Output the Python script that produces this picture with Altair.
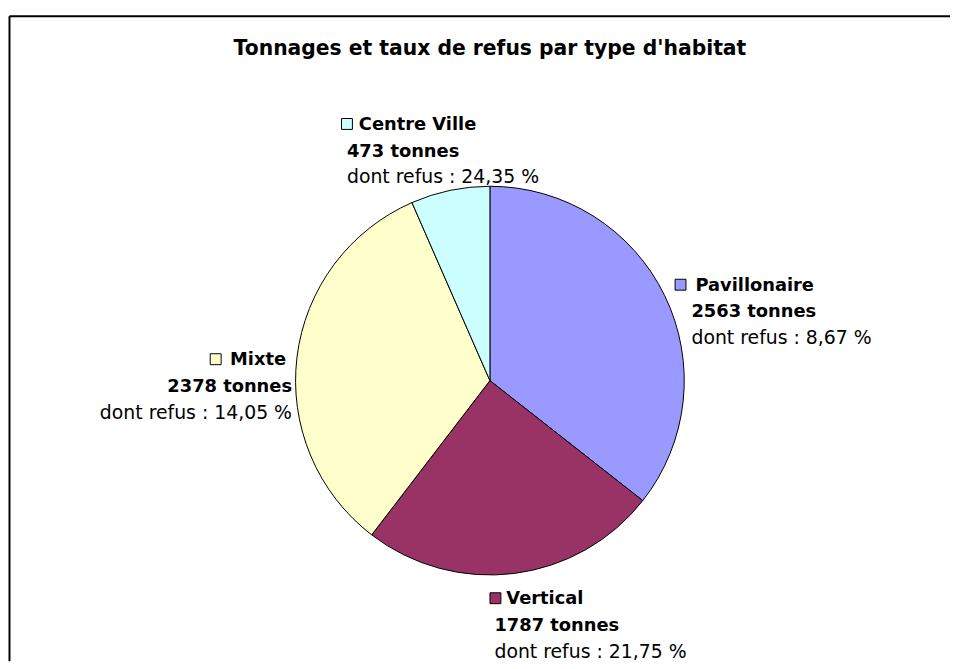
import math
import altair as alt
import pandas as pd

# ---- data ----
categories = ["Pavillonaire", "Vertical", "Mixte", "Centre Ville"]
tonnages = [2563, 1787, 2378, 473]
refus_pct = ["8,67", "21,75", "14,05", "24,35"]
colors = ["#9999FF", "#993366", "#FFFFCC", "#CCFFFF"]
title_text = "Tonnages et taux de refus par type d'habitat"

# ---- layout ----
W, H = 950, 656
CX, CY, R = 486, 373, 196
FONT = "DejaVu Sans"
LINE = 27
# label offsets relative to the slice's mid-angle point on the pie rim
LAYOUT = {
    "Pavillonaire": dict(align="left", dx=27, dy=-5, name_dx=4, sq_dx=-11),
    "Vertical": dict(align="left", dx=-20, dy=31, name_dx=12, sq_dx=1),
    "Mixte": dict(align="right", dx=-5, dy=8, name_dx=-6, sq_dx=-77),
    "Centre Ville": dict(align="left", dx=-104, dy=-61, name_dx=12, sq_dx=0),
}

pie_df = pd.DataFrame({"cat": categories, "tonnes": tonnages,
                       "idx": list(range(len(categories)))})

total = sum(tonnages)
rows, squares = [], []
cum = 0.0
for cat, t, rp in zip(categories, tonnages, refus_pct):
    mid = (cum + t / 2) / total * 2 * math.pi
    cum += t
    ex = CX + R * math.sin(mid)
    ey = CY - R * math.cos(mid)
    L = LAYOUT[cat]
    ax, ay = ex + L["dx"], ey + L["dy"]
    rows.append(dict(cat=cat, x=ax + L["name_dx"], y=ay, text=cat, bold=1, align=L["align"]))
    rows.append(dict(cat=cat, x=ax, y=ay + LINE, text=f"{t} tonnes", bold=1, align=L["align"]))
    rows.append(dict(cat=cat, x=ax, y=ay + 2 * LINE, text=f"dont refus : {rp} %", bold=0, align=L["align"]))
    squares.append(dict(cat=cat, x=ax + L["sq_dx"], y=ay - 6))
lab_df = pd.DataFrame(rows)
sq_df = pd.DataFrame(squares)

color_scale = alt.Scale(domain=categories, range=colors)

pie = alt.Chart(pie_df).mark_arc(radius=R, stroke="black", strokeWidth=1).encode(
    theta=alt.Theta("tonnes:Q", stack=True),
    order=alt.Order("idx:Q"),
    color=alt.Color("cat:N", scale=color_scale, legend=None),
    x=alt.value(CX),
    y=alt.value(CY),
)

def text_layer(bold, align):
    return alt.Chart(lab_df).transform_filter(
        (alt.datum.bold == bold) & (alt.datum.align == align)
    ).mark_text(
        align=align, baseline="alphabetic", font=FONT,
        fontSize=18 if bold else 19,
        fontWeight="bold" if bold else "normal", color="black",
    ).encode(
        x=alt.X("x:Q", scale=None, axis=None),
        y=alt.Y("y:Q", scale=None, axis=None),
        text="text:N",
    )

texts = [text_layer(b, a) for b in (1, 0) for a in ("left", "right")]

sq = alt.Chart(sq_df).mark_square(size=121, filled=True, stroke="black",
                                  strokeWidth=1, opacity=1).encode(
    x=alt.X("x:Q", scale=None, axis=None),
    y=alt.Y("y:Q", scale=None, axis=None),
    color=alt.Color("cat:N", scale=color_scale, legend=None),
)

one = pd.DataFrame({"a": [0]})
title = alt.Chart(pd.DataFrame({"t": [title_text]})).mark_text(
    align="center", baseline="alphabetic", font=FONT, fontSize=20.5,
    fontWeight="bold", color="black",
).encode(x=alt.value(CX), y=alt.value(45), text="t:N")

frame_left = alt.Chart(one).mark_rule(color="black", strokeWidth=2).encode(
    x=alt.value(1.5), y=alt.value(5.5), y2=alt.value(H))
frame_top = alt.Chart(one).mark_rule(color="black", strokeWidth=2).encode(
    x=alt.value(1.5), x2=alt.value(W), y=alt.value(5.5))

chart = alt.layer(frame_left, frame_top, title, pie, sq, *texts).properties(
    width=W, height=H, autosize="none", padding=0, background="white"
).configure_view(stroke=None)

chart.save("out.html", embed_options={"renderer": "svg", "actions": False})
